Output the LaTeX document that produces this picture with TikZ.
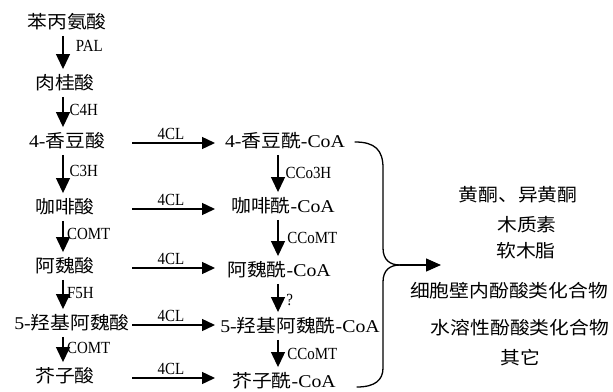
\documentclass[tikz,border=0pt]{standalone}
\usepackage{fontspec}
\setmainfont{Liberation Serif}
\newfontfamily\cjk{Noto Sans CJK SC}
\usetikzlibrary{arrows.meta,calc}
\newcommand{\zh}[1]{{\cjk #1}}
\tikzset{
  lbl/.style={font=\fontsize{18}{20}\selectfont, inner sep=0.5pt, text height=13pt, text depth=3.5pt, xscale=1.1},
  enz/.style={font=\fontsize{17}{19}\selectfont, inner sep=0pt, xscale=0.88},
  varr/.style={-{Triangle[length=15pt,width=14pt]}, line width=1.2pt, shorten <=3pt, shorten >=7pt},
  harr/.style={-{Triangle[length=13pt,width=12pt]}, line width=1.4pt},
  bigarr/.style={-{Triangle[length=15pt,width=13pt]}, line width=1.3pt},
  brace/.style={line width=1.3pt, line cap=round}
}
\begin{document}
\begin{tikzpicture}[x=1pt,y=1pt]
\useasboundingbox (0,0) rectangle (613,-391);
\fill[white] (0,0) rectangle (613,-391);
% helper coordinates
\coordinate (lx) at (63,0);
\coordinate (rx) at (278,0);
\coordinate (hs) at (132,0);
\coordinate (he) at (215,0);
% left column
\node[lbl] (p1) at (67,-24) {\zh{苯丙氨酸}};
\node[lbl] (p2) at (65,-85) {\zh{肉桂酸}};
\node[lbl] (p3) at (67,-143) {4-\zh{香豆酸}};
\node[lbl] (p4) at (65,-209) {\zh{咖啡酸}};
\node[lbl] (p5) at (65,-268) {\zh{阿魏酸}};
\node[lbl] (p6) at (72,-325) {5-\zh{羟基阿魏酸}};
\node[lbl] (p7) at (65,-378) {\zh{芥子酸}};
% right column
\node[lbl] (q1) at (285,-143) {4-\zh{香豆酰}-CoA};
\node[lbl] (q2) at (283,-208) {\zh{咖啡酰}-CoA};
\node[lbl] (q3) at (279,-272) {\zh{阿魏酰}-CoA};
\node[lbl] (q4) at (300,-328) {5-\zh{羟基阿魏酰}-CoA};
\node[lbl] (q5) at (284,-383) {\zh{芥子酰}-CoA};
% products
\node[lbl] (r1) at (518,-197) {\zh{黄酮、异黄酮}};
\node[lbl] (r2) at (527,-227) {\zh{木质素}};
\node[lbl] (r3) at (526,-253) {\zh{软木脂}};
\node[lbl] (r4) at (509,-293) {\zh{细胞壁内酚酸类化合物}};
\node[lbl] (r5) at (520,-330) {\zh{水溶性酚酸类化合物}};
\node[lbl] (r6) at (520,-360) {\zh{其它}};
% left vertical arrows
\draw[varr] (p1.south -| lx) -- (p2.north -| lx) node[enz, pos=0.3, anchor=west, xshift=14pt] {PAL};
\draw[varr] (p2.south -| lx) -- (p3.north -| lx) node[enz, pos=0.4, anchor=west, xshift=7pt] {C4H};
\draw[varr] (p3.south -| lx) -- (p4.north -| lx) node[enz, pos=0.4, anchor=west, xshift=7pt] {C3H};
\draw[varr] (p4.south -| lx) -- (p5.north -| lx) node[enz, pos=0.4, anchor=west, xshift=4pt] {COMT};
\draw[varr] (p5.south -| lx) -- (p6.north -| lx) node[enz, pos=0.4, anchor=west, xshift=4pt] {F5H};
\draw[varr] (p6.south -| lx) -- (p7.north -| lx) node[enz, pos=0.4, anchor=west, xshift=4pt] {COMT};
% horizontal arrows
\draw[harr] (p3 -| hs) -- (p3 -| he) node[enz, midway, above=3pt, xshift=-3pt] {4CL};
\draw[harr] (p4 -| hs) -- (p4 -| he) node[enz, midway, above=3pt, xshift=-3pt] {4CL};
\draw[harr] (p5 -| hs) -- (p5 -| he) node[enz, midway, above=3pt, xshift=-3pt] {4CL};
\draw[harr] (p6 -| hs) -- (p6 -| he) node[enz, midway, above=3pt, xshift=-3pt] {4CL};
\draw[harr] (p7 -| hs) -- (p7 -| he) node[enz, midway, above=3pt, xshift=-3pt] {4CL};
% right vertical arrows
\draw[varr] (q1.south -| rx) -- (q2.north -| rx) node[enz, pos=0.45, anchor=west, xshift=8pt] {CCo3H};
\draw[varr] (q2.south -| rx) -- (q3.north -| rx) node[enz, pos=0.45, anchor=west, xshift=10pt] {CCoMT};
\draw[varr] (q3.south -| rx) -- (q4.north -| rx) node[enz, pos=0.5, anchor=west, xshift=9pt] {?};
\draw[varr] (q4.south -| rx) -- (q5.north -| rx) node[enz, pos=0.45, anchor=west, xshift=10pt] {CCoMT};
% brace
\coordinate (tip) at (400,-265);
\coordinate (aend) at (441,-265);
\draw[brace] (355,-142) .. controls (375,-142) and (383,-150) .. (383,-168)
  -- (383,-248) .. controls (383,-260) and (390,-265) .. (tip);
\draw[brace] (tip) .. controls (390,-265) and (383,-270) .. (383,-282)
  -- (383,-368) .. controls (383,-380) and (375,-387) .. (357,-387);
\draw[bigarr] (tip) -- (aend);
\end{tikzpicture}
\end{document}
